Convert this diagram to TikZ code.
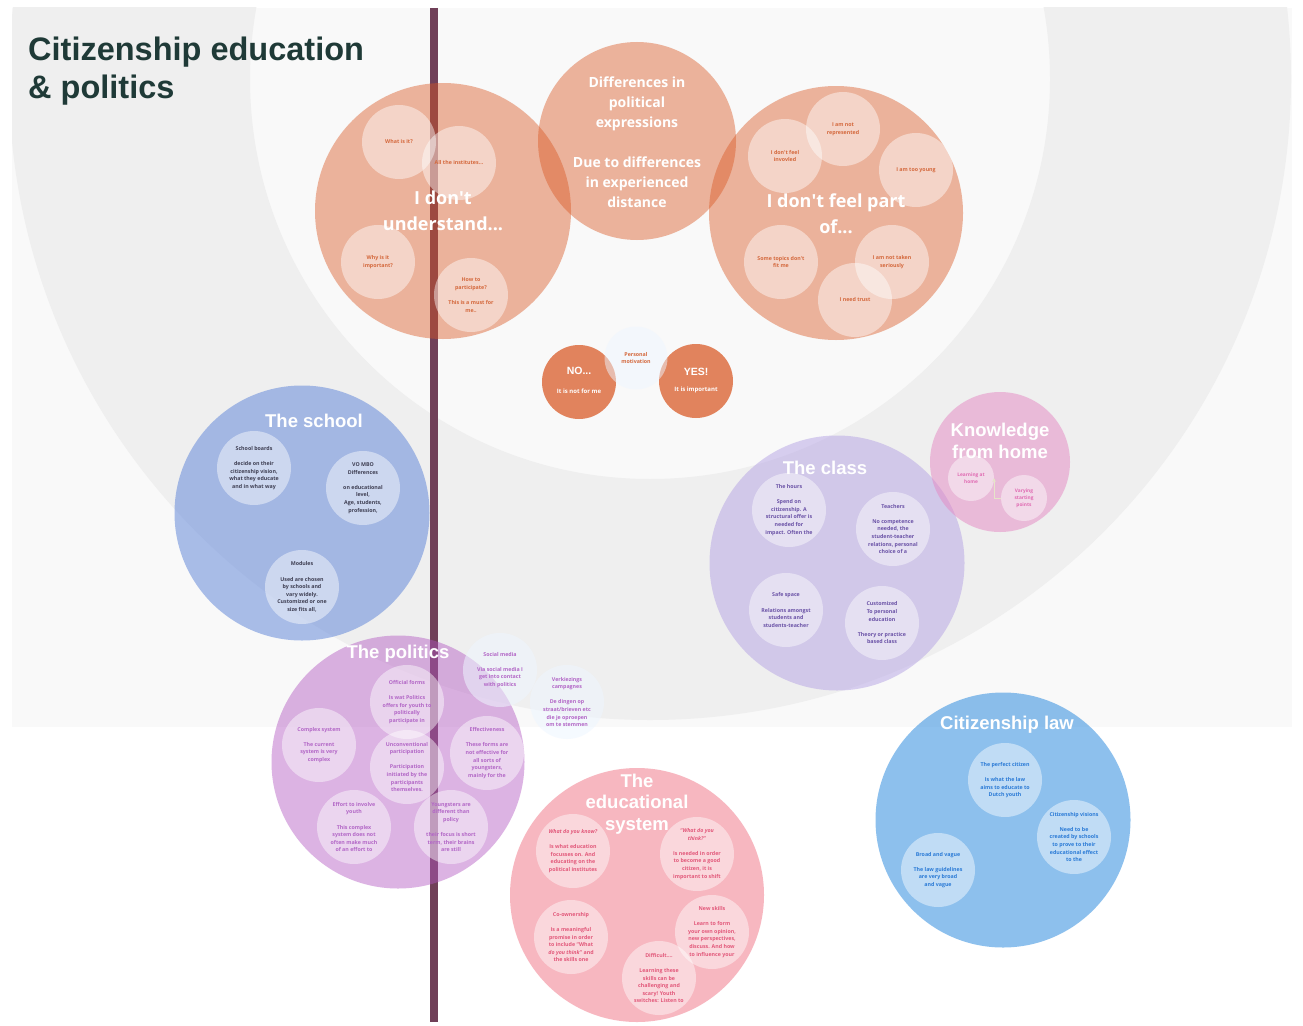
\documentclass[tikz,border=0pt]{standalone}
\usepackage{fontspec}
\setmainfont{Open Sans}
\newfontfamily\arialf{Liberation Sans}
\newfontfamily\osplain{Open Sans}
\usetikzlibrary{arrows.meta}

\definecolor{bglight}{HTML}{F9F9F9}
\definecolor{bgband}{HTML}{EFEFEF}
\definecolor{vline}{HTML}{704058}
\definecolor{titlecol}{HTML}{1F3A37}
\definecolor{orangebase}{HTML}{D95621}
\definecolor{schoolbase}{HTML}{668ADA}
\definecolor{classbase}{HTML}{B4A2E4}
\definecolor{homebase}{HTML}{E587C3}
\definecolor{polbase}{HTML}{B257C1}
\definecolor{edubase}{HTML}{F17183}
\definecolor{lawbase}{HTML}{1D83DD}
\definecolor{palebase}{HTML}{EEF6FF}
\definecolor{orangetxt}{HTML}{D4683C}
\definecolor{schooltxt}{HTML}{3E3E52}
\definecolor{classtxt}{HTML}{6A52A6}
\definecolor{hometxt}{HTML}{E06AB2}
\definecolor{poltxt}{HTML}{B266C6}
\definecolor{edutxt}{HTML}{E2587A}
\definecolor{lawtxt}{HTML}{2A7AD6}
\definecolor{arrowcol}{HTML}{E6E4C8}

\newcommand{\blankln}{\\[7.6pt]}
\newcommand{\ap}{{\osplain'}}

\tikzset{
  bigc/.style={circle, inner sep=0pt, outer sep=0pt, draw=none},
  whitec/.style={circle, inner sep=0pt, outer sep=0pt, draw=none, fill=white, fill opacity=0.45, minimum size=74pt},
  palec/.style={circle, inner sep=0pt, outer sep=0pt, draw=none, fill=palebase, fill opacity=0.55, minimum size=74pt},
  homec/.style={circle, inner sep=0pt, outer sep=0pt, draw=none, fill=white, fill opacity=0.45, minimum size=46pt},
  tinytxt/.style={align=center, inner sep=0pt, font=\bfseries\fontsize{5.3}{7.6}\selectfont},
  hometinytxt/.style={align=center, inner sep=0pt, text=hometxt, font=\bfseries\fontsize{4.8}{7}\selectfont},
  ctitle/.style={align=center, inner sep=0pt, text=white, font=\arialf\bfseries\fontsize{18.5}{21.5}\selectfont},
  otitle/.style={align=center, inner sep=0pt, text=white, font=\bfseries\fontsize{18}{26}\selectfont},
  otxt/.style={tinytxt, text=orangetxt},
  stxt/.style={tinytxt, text=schooltxt},
  cltxt/.style={tinytxt, text=classtxt},
  ptxt/.style={tinytxt, text=poltxt},
  etxt/.style={tinytxt, text=edutxt},
  ltxt/.style={tinytxt, text=lawtxt},
  headline/.style={anchor=base west, inner sep=0pt, text=titlecol, font=\arialf\bfseries\fontsize{32.5}{38}\selectfont},
}

\begin{document}
\begin{tikzpicture}[x=1pt,y=-1pt]
\useasboundingbox (0,0) rectangle (1303,1025);
\fill[white] (0,0) rectangle (1303,1025);
% background panel with grey band
\fill[bglight] (12,8) rectangle (1292,727);
\begin{scope}
  \clip (12,8) rectangle (1292,727);
  \fill[bgband, even odd rule] (650,79) circle[radius=641pt] (650,79) circle[radius=400pt];
\end{scope}

% vertical line
\coordinate (lineTop) at (434,8);
\coordinate (lineBot) at (434,1022);
\draw[vline, line width=8pt] (lineTop) -- (lineBot);

% orange circles
\node[bigc, fill=orangebase, fill opacity=0.43, minimum size=256pt] (undc) at (443,211) {};
\node[bigc, fill=orangebase, fill opacity=0.43, minimum size=198pt] (diffc) at (637,141) {};
\node[bigc, fill=orangebase, fill opacity=0.43, minimum size=254pt] (partc) at (836,213) {};
\node[bigc, fill=orangebase, fill opacity=0.72, minimum size=74pt] (noc) at (579,382) {};
\node[bigc, fill=orangebase, fill opacity=0.72, minimum size=74pt] (yesc) at (696,381) {};
\node[bigc, fill=palebase, fill opacity=0.5, minimum size=63pt] (motc) at (636,358) {};

% themed circles
\node[bigc, fill=schoolbase, fill opacity=0.55, minimum size=255pt] (schoolc) at (302,513) {};
\node[bigc, fill=classbase, fill opacity=0.5, minimum size=255pt] (classc) at (837,563) {};
\node[bigc, fill=homebase, fill opacity=0.5, minimum size=140pt] (homec) at (1000,462) {};
\node[bigc, fill=polbase, fill opacity=0.45, minimum size=253pt] (polc) at (398,762) {};
\node[palec] (socc) at (500,670) {};
\node[palec] (verkc) at (567,702) {};
\node[bigc, fill=edubase, fill opacity=0.5, minimum size=254pt] (educ) at (637,895) {};
\node[bigc, fill=lawbase, fill opacity=0.5, minimum size=255pt] (lawc) at (1003,820) {};

% small circles: I don't understand
\node[whitec] (whatc) at (399,142) {};
\node[whitec] (instc) at (459,163) {};
\node[whitec] (whyc) at (378,262) {};
\node[whitec] (howc) at (471,295) {};
% small circles: I don't feel part of
\node[whitec] (involc) at (785,156) {};
\node[whitec] (reprc) at (843,129) {};
\node[whitec] (youngc) at (916,170) {};
\node[whitec] (topicc) at (781,262) {};
\node[whitec] (seriousc) at (892,262) {};
\node[whitec] (trustc) at (855,300) {};
% school
\node[whitec] (boardc) at (254,468) {};
\node[whitec] (vombo) at (363,488) {};
\node[whitec] (modc) at (302,587) {};
% class
\node[whitec] (hoursc) at (789,510) {};
\node[whitec] (teachc) at (893,529) {};
\node[whitec] (safec) at (786,610) {};
\node[whitec] (custc) at (882,623) {};
% home
\node[homec] (learnc) at (971,478) {};
\node[homec] (varyc) at (1024,498) {};
% politics
\node[whitec] (offc) at (407,702) {};
\node[whitec] (complc) at (319,745) {};
\node[whitec] (unconc) at (407,767) {};
\node[whitec] (effc) at (487,753) {};
\node[whitec] (effortc) at (354,827) {};
\node[whitec] (youngstc) at (451,827) {};
% educational system
\node[whitec] (knowc) at (573,851) {};
\node[whitec] (thinkc) at (697,854) {};
\node[whitec] (coownc) at (571,937) {};
\node[whitec] (skillc) at (712,932) {};
\node[whitec] (diffic) at (659,978) {};
% citizenship law
\node[whitec] (perfc) at (1005,780) {};
\node[whitec] (visc) at (1074,837) {};
\node[whitec] (broadc) at (938,870) {};

% arrow in knowledge from home
\draw[arrowcol, line width=0.9pt, -{Stealth[length=4pt,width=3.5pt]}] (varyc.west) -| (learnc.east);

% ---------- texts ----------
\node[headline] (title1) at (28,60) {Citizenship education};
\node[headline] (title2) at (28,98) {\& politics};

\node[otitle] (undt) at (443,211) {I don\ap t\\understand...};
\node[align=center, inner sep=0pt, text=white, font=\bfseries\fontsize{14}{20}\selectfont] (difft) at (637,142)
  {Differences in\\political\\expressions\\[20pt]Due to differences\\in experienced\\distance};
\node[otitle] (partt) at (836,214) {I don\ap t feel part\\of...};

\node[otxt] (whatt) at (whatc) {What is it?};
\node[otxt] (instt) at (instc) {All the institutes...};
\node[otxt] (whyt) at (whyc) {Why is it\\important?};
\node[otxt] (howt) at (howc) {How to\\participate?\blankln This is a must for\\me..};

\node[otxt] (involt) at (involc) {I don\ap t feel\\invovled};
\node[otxt] (reprt) at (reprc) {I am not\\represented};
\node[otxt] (youngt) at (youngc) {I am too young};
\node[otxt] (topict) at (topicc) {Some topics don\ap t\\fit me};
\node[otxt] (seriout) at (seriousc) {I am not taken\\seriously};
\node[otxt] (trustt) at (trustc) {I need trust};

\node[otxt] (mott) at (motc) {Personal\\motivation};
\node[inner sep=0pt, text=white, font=\arialf\bfseries\fontsize{10.5}{12}\selectfont] (not) at (579,371) {NO...};
\node[inner sep=0pt, text=white, font=\bfseries\fontsize{6}{7}\selectfont] (nosub) at (579,391) {It is not for me};
\node[inner sep=0pt, text=white, font=\arialf\bfseries\fontsize{10.5}{12}\selectfont] (yest) at (696,372) {YES!};
\node[inner sep=0pt, text=white, font=\bfseries\fontsize{6}{7}\selectfont] (yessub) at (696,390) {It is important};

% school
\node[ctitle] (schoolt) at (314,421) {The school};
\node[stxt] (boardt) at (boardc) {School boards\blankln decide on their\\citizenship vision,\\what they educate\\and in what way};
\node[stxt] (vombot) at (vombo) {VO MBO\\Differences\blankln on educational\\level,\\Age, students,\\profession,};
\node[stxt] (modt) at (modc) {Modules\blankln Used are chosen\\by schools and\\vary widely.\\Customized or one\\size fits all,};

% class
\node[ctitle] (classt) at (825,468) {The class};
\node[cltxt] (hourst) at (hoursc) {The hours\blankln Spend on\\citizenship. A\\structural offer is\\needed for\\impact. Often the};
\node[cltxt] (teacht) at (teachc) {Teachers\blankln No competence\\needed, the\\student-teacher\\relations, personal\\choice of a};
\node[cltxt] (safet) at (safec) {Safe space\blankln Relations amongst\\students and\\students-teacher};
\node[cltxt] (custt) at (custc) {Customized\\To personal\\education\blankln Theory or practice\\based class};

% home
\node[ctitle] (homet) at (1000,441) {Knowledge\\from home};
\node[hometinytxt] (learnt) at (learnc) {Learning at\\home};
\node[hometinytxt] (varyt) at (varyc) {Varying\\starting\\points};

% politics
\node[ctitle] (polt) at (398,654) {The politics};
\node[ptxt] (offt) at (offc) {Official forms\blankln Is wat Politics\\offers for youth to\\politically\\participate in};
\node[ptxt] (complt) at (complc) {Complex system\blankln The current\\system is very\\complex};
\node[ptxt] (uncont) at (unconc) {Unconventional\\participation\blankln Participation\\initiated by the\\participants\\themselves.};
\node[ptxt] (efft) at (effc) {Effectiveness\blankln These forms are\\not effective for\\all sorts of\\youngsters,\\mainly for the};
\node[ptxt] (effortt) at (effortc) {Effort to involve\\youth\blankln This complex\\system does not\\often make much\\of an effort to};
\node[ptxt] (youngstt) at (youngstc) {Youngsters are\\different than\\policy\blankln their focus is short\\term, their brains\\are still};
\node[ptxt] (soct) at (socc) {Social media\blankln Via social media I\\get into contact\\with politics};
\node[ptxt] (verkt) at (verkc) {Verkiezings\\campagnes\blankln De dingen op\\straat/brieven etc\\die je oproepen\\om te stemmen};

% educational system
\node[etxt] (knowt) at (knowc) {\textit{What do you know?}\blankln Is what education\\focusses on. And\\educating on the\\political institutes};
\node[etxt] (thinkt) at (thinkc) {\textit{“What do you}\\\textit{think?”}\blankln Is needed in order\\to become a good\\citizen, it is\\important to shift};
\node[etxt] (coownt) at (coownc) {Co-ownership\blankln Is a meaningful\\promise in order\\to include “What\\\textit{do you think}” and\\the skills one};
\node[etxt] (skillt) at (skillc) {New skills\blankln Learn to form\\your own opinion,\\new perspectives,\\discuss. And how\\to influence your};
\node[etxt] (diffit) at (diffic) {Difficult....\blankln Learning these\\skills can be\\challenging and\\scary! Youth\\switches: Listen to};
\node[ctitle] (edut) at (637,804) {The\\educational\\system};

% citizenship law
\node[ctitle] (lawt) at (1007,725) {Citizenship law};
\node[ltxt] (perft) at (perfc) {The perfect citizen\blankln Is what the law\\aims to educate to\\Dutch youth};
\node[ltxt] (vist) at (visc) {Citizenship visions\blankln Need to be\\created by schools\\to prove to their\\educational effect\\to the};
\node[ltxt] (broadt) at (broadc) {Broad and vague\blankln The law guidelines\\are very broad\\and vague};
\end{tikzpicture}
\end{document}
